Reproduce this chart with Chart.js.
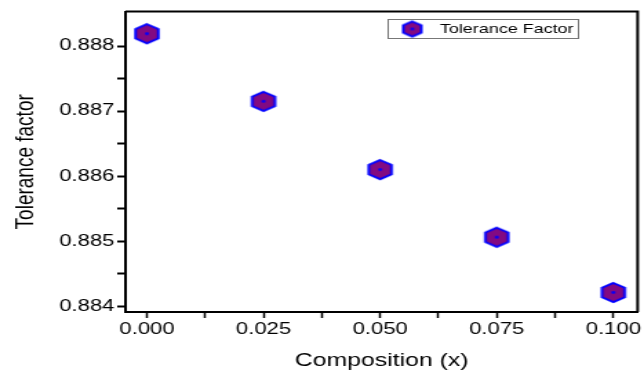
<!DOCTYPE html>
<html>
<head>
<meta charset="utf-8">
<script src="https://cdn.jsdelivr.net/npm/chart.js@4.4.0/dist/chart.umd.min.js"></script>
<style>
  html, body { margin: 0; padding: 0; background: #fff; overflow: hidden; }
  /* the original figure is stretched sideways, so the canvas is too */
  #wrap { width: 467px; height: 373px; transform: scaleX(1.379); transform-origin: 0 0; }
</style>
</head>
<body>
<div id="wrap"><canvas id="grafico" width="467" height="373"></canvas></div>
<script>
const composition = [0, 0.025, 0.05, 0.075, 0.1];
const toleranceFactor = [0.88819, 0.88715, 0.88610, 0.88506, 0.88421];
const xTicks = [0, 0.025, 0.05, 0.075, 0.1];
const yTicks = [0.884, 0.885, 0.886, 0.887, 0.888];
const seriesName = 'Tolerance Factor';

const fonte = '"Liberation Sans", Arial, sans-serif';

function hexagono(r) {
  const c = document.createElement('canvas');
  const t = Math.ceil(r * 2 + 4);
  c.width = t;
  c.height = t;
  const g = c.getContext('2d');
  const m = t / 2;
  g.beginPath();
  for (let k = 0; k < 6; k++) {
    const a = -Math.PI / 2 + k * Math.PI / 3;
    g.lineTo(m + r * Math.cos(a), m + r * Math.sin(a));
  }
  g.closePath();
  g.fillStyle = '#820a82';
  g.fill();
  g.lineWidth = 2;
  g.strokeStyle = '#0000ff';
  g.stroke();
  g.beginPath();
  g.arc(m, m, 1.4, 0, Math.PI * 2);
  g.fillStyle = '#0000ff';
  g.fill();
  return c;
}

// major ticks plus one minor tick between each pair
function comMenores(lista) {
  const out = [];
  lista.forEach((v, i) => {
    out.push(v);
    if (i < lista.length - 1) out.push((v + lista[i + 1]) / 2);
  });
  return out;
}

function ehMaior(lista, v) {
  return lista.some(m => Math.abs(m - v) < 1e-9);
}

const marcador = hexagono(9.5);
const marcadorLegenda = hexagono(7.5);

const moldura = {
  id: 'moldura',
  afterDraw(chart) {
    const { ctx, chartArea: a } = chart;
    ctx.save();
    ctx.strokeStyle = '#000';
    ctx.lineWidth = 2;
    ctx.beginPath();
    ctx.moveTo(a.left, a.top);
    ctx.lineTo(a.right, a.top);
    ctx.lineTo(a.right, a.bottom);
    ctx.stroke();

    // legend box
    ctx.lineWidth = 1;
    ctx.strokeStyle = '#777';
    ctx.strokeRect(281.5, 19.5, 138, 19);
    ctx.drawImage(marcadorLegenda, 299 - marcadorLegenda.width / 2, 29 - marcadorLegenda.height / 2);
    ctx.fillStyle = '#000';
    ctx.font = '13px ' + fonte;
    ctx.textBaseline = 'middle';
    ctx.fillText(chart.data.datasets[0].label, 319, 29.5);
    ctx.restore();
  }
};

new Chart(document.getElementById('grafico'), {
  type: 'scatter',
  data: {
    datasets: [{
      label: seriesName,
      data: composition.map((x, i) => ({ x: x, y: toleranceFactor[i] })),
      pointStyle: marcador,
      pointRadius: 10,
      showLine: false
    }]
  },
  options: {
    responsive: false,
    animation: false,
    devicePixelRatio: 1,
    layout: { autoPadding: false, padding: { top: 7, right: 4, left: 0, bottom: 0 } },
    plugins: {
      legend: { display: false },
      tooltip: { enabled: false }
    },
    scales: {
      x: {
        type: 'linear',
        min: -0.0046,
        max: 0.1052,
        afterBuildTicks: s => { s.ticks = comMenores(xTicks).map(v => ({ value: v })); },
        afterFit: s => { s.height = 61; },
        grid: { drawOnChartArea: false, tickLength: 6, tickWidth: 1.5, tickColor: '#000' },
        border: { display: true, color: '#000', width: 2 },
        ticks: {
          color: '#000',
          font: { family: fonte, size: 16 },
          padding: 2,
          maxRotation: 0,
          autoSkip: false,
          callback: v => ehMaior(xTicks, v) ? v.toFixed(3) : ''
        },
        title: {
          display: true,
          text: 'Composition (x)',
          color: '#000',
          font: { family: fonte, size: 18 },
          padding: { top: 0, bottom: 1 }
        }
      },
      y: {
        min: 0.88391,
        max: 0.88853,
        afterBuildTicks: s => { s.ticks = comMenores(yTicks).map(v => ({ value: v })); },
        afterFit: s => { s.width = 91; },
        grid: { drawOnChartArea: false, tickLength: 6, tickWidth: 2, tickColor: '#000' },
        border: { display: true, color: '#000', width: 2 },
        ticks: {
          color: '#000',
          font: { family: fonte, size: 16 },
          padding: 2,
          autoSkip: false,
          callback: v => ehMaior(yTicks, v) ? v.toFixed(3) : ''
        },
        title: {
          display: true,
          text: 'Tolerance factor',
          color: '#000',
          font: { family: fonte, size: 19 },
          padding: { top: 7, bottom: 0 }
        }
      }
    }
  },
  plugins: [moldura]
});
</script>
</body>
</html>
